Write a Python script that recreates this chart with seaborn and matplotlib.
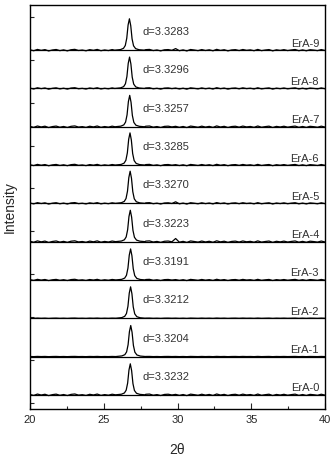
import numpy as np
import pandas as pd
import matplotlib
matplotlib.use("Agg")
import matplotlib.pyplot as plt
import seaborn as sns

# ---- data ----
samples = ["ErA-0", "ErA-1", "ErA-2", "ErA-3", "ErA-4",
           "ErA-5", "ErA-6", "ErA-7", "ErA-8", "ErA-9"]
d_values = ["d=3.3232", "d=3.3204", "d=3.3212", "d=3.3191", "d=3.3223",
            "d=3.3270", "d=3.3285", "d=3.3257", "d=3.3296", "d=3.3283"]
peak_centers = [26.80, 26.83, 26.82, 26.82, 26.80, 26.79, 26.78, 26.76, 26.75, 26.74]
peak_heights = [0.81, 0.81, 0.82, 0.81, 0.82, 0.84, 0.84, 0.82, 0.82, 0.82]
noise_scale = [1.0, 0.15, 0.2, 0.8, 1.0, 0.9, 0.9, 1.0, 0.9, 1.0]
bump_heights = [0.0, 0.0, 0.0, 0.0, 0.07, 0.03, 0.0, 0.0, 0.0, 0.03]

# relative peak profile (offset from centre in deg, fraction of height)
peak_dx = [-1.0, -0.6, -0.40, -0.28, -0.18, -0.09, 0.0, 0.09, 0.18, 0.28, 0.42, 0.65, 1.0]
peak_frac = [0.0, 0.02, 0.06, 0.15, 0.38, 0.80, 1.0, 0.78, 0.36, 0.14, 0.05, 0.015, 0.0]

# hand-typed baseline wiggle (units of trace spacing)
wiggle = [0.010, -0.015, 0.020, -0.005, 0.015, -0.020, 0.005, 0.018, -0.012, 0.008,
          -0.018, 0.012, 0.022, -0.008, 0.004, -0.016, 0.014, -0.004, 0.020, -0.014,
          0.006, -0.010, 0.016, -0.006, 0.012, -0.020, 0.008, 0.018, -0.012, 0.002,
          -0.016, 0.014, 0.020, -0.010, 0.006, -0.018, 0.010, 0.016, -0.004, 0.012,
          -0.014, 0.008, -0.020, 0.018, 0.004, -0.012, 0.016, -0.008, 0.010, -0.016,
          0.022, -0.006, 0.012, -0.018, 0.006, 0.014, -0.010, 0.018, -0.004, 0.008,
          -0.014, 0.020, -0.012, 0.004, 0.016, -0.018, 0.010, -0.006, 0.014, -0.010,
          0.006, 0.018, -0.014, 0.008, -0.016, 0.012, 0.002, -0.012, 0.016, -0.008]

x_labels = ["20", "25", "30", "35", "40"]
x_ticks = [20, 25, 30, 35, 40]

# ---- build long-form table ----
x_noise = np.linspace(20, 40, len(wiggle))
rows = []
for i, s in enumerate(samples):
    c = peak_centers[i]
    pts = {}
    for xv, w in zip(x_noise, wiggle):
        if abs(xv - c) > 1.0:
            val = w * noise_scale[i]
            if abs(xv - 29.87) < 0.15:
                val += bump_heights[i]
            pts[xv] = val
    for dx, f in zip(peak_dx, peak_frac):
        pts[c + dx] = f * peak_heights[i]
    for xv in sorted(pts):
        rows.append({"two_theta": xv, "intensity": pts[xv] + i, "sample": s})
df = pd.DataFrame(rows)

# ---- plot ----
sns.set_style("white")
plt.rcParams["font.family"] = ["Liberation Sans", "DejaVu Sans"]
fig = plt.figure(figsize=(3.31, 4.57), dpi=100)
ax = fig.add_axes([30 / 331, 1 - 409 / 457, 295 / 331, 404 / 457])

sns.lineplot(data=df, x="two_theta", y="intensity", hue="sample",
             palette=["black"] * len(samples), legend=False, lw=0.9,
             sort=False, estimator=None, ax=ax)

for i in range(len(samples)):
    ax.axhline(i, color="black", lw=0.9, zorder=1)
    ax.text(27.65, i + 0.47, d_values[i], fontsize=8, ha="left", va="center",
            color="#333333")
    ax.text(39.6, i + 0.17, samples[i], fontsize=8, ha="right", va="center",
            color="#333333")

ax.set_xlim(20, 40)
ax.set_ylim(-0.37, 10.18)
ax.set_xticks(x_ticks)
ax.set_xticklabels(x_labels, fontsize=8)
ax.set_xticks([22.5, 27.5, 32.5, 37.5], minor=True)
ax.set_yticks([-0.21 + 1.12 * k for k in range(10)])
ax.set_yticklabels([])
ax.tick_params(axis="x", which="major", direction="in", length=4, width=0.8,
               bottom=True, pad=4)
ax.tick_params(axis="x", which="minor", direction="in", length=2.5, width=0.8,
               bottom=True)
ax.tick_params(axis="y", which="major", direction="in", length=3, width=0.8,
               left=True)
for sp in ax.spines.values():
    sp.set_color("black")
    sp.set_linewidth(1.0)

ax.set_xlabel("2θ", fontsize=10, labelpad=13)
ax.set_ylabel("Intensity", fontsize=10, labelpad=6)

fig.savefig("out.png", dpi=100)
